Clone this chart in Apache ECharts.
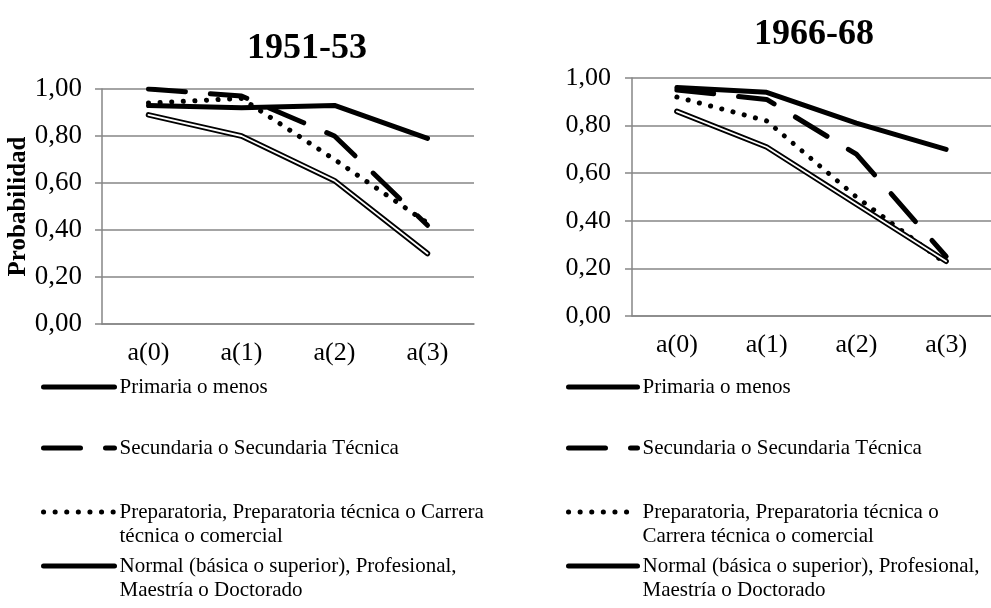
<!DOCTYPE html>
<html>
<head>
<meta charset="utf-8">
<script src="https://cdn.jsdelivr.net/npm/echarts@6/dist/echarts.min.js"></script>
<style>
  html, body { margin: 0; padding: 0; background: #fff; }
  #chart { width: 991px; height: 608px; }
</style>
</head>
<body>
<div id="chart"></div>
<script>
const categories = ["a(0)", "a(1)", "a(2)", "a(3)"];
const seriesNames = [
  "Primaria o menos",
  "Secundaria o Secundaria Técnica",
  "Preparatoria, Preparatoria técnica o Carrera técnica o comercial",
  "Normal (básica o superior), Profesional, Maestría o Doctorado"
];
const titles = ["1951-53", "1966-68"];

// 1951-53
const primaria5153 = [0.93, 0.92, 0.93, 0.79];
const secundaria5153 = [1.00, 0.97, 0.80, 0.42];
const preparatoria5153 = [0.94, 0.96, 0.70, 0.43];
const normal5153 = [0.89, 0.80, 0.61, 0.30];

// 1966-68
const primaria6668 = [0.96, 0.94, 0.81, 0.70];
const secundaria6668 = [0.95, 0.91, 0.68, 0.25];
const preparatoria6668 = [0.92, 0.82, 0.50, 0.22];
const normal6668 = [0.86, 0.71, 0.47, 0.23];

const legendLabels = [
  [
    "Primaria o menos",
    "Secundaria o Secundaria Técnica",
    "Preparatoria, Preparatoria técnica o Carrera\ntécnica o comercial",
    "Normal (básica o superior), Profesional,\nMaestría o Doctorado"
  ],
  [
    "Primaria o menos",
    "Secundaria o Secundaria Técnica",
    "Preparatoria, Preparatoria técnica o\nCarrera técnica o comercial",
    "Normal (básica o superior), Profesional,\nMaestría o Doctorado"
  ]
];

const FONT = "Liberation Serif";
const GRAY = "#868686";

const panels = [
  { data: [primaria5153, secundaria5153, preparatoria5153, normal5153],
    grid: { left: 102, top: 89, width: 372, height: 235 },
    title: { x: 302, top: 26 }, yFont: 27, yMargin: 20,
    legendLeft: 41, legendWidth: 71 },
  { data: [primaria6668, secundaria6668, preparatoria6668, normal6668],
    grid: { left: 632, top: 78, width: 365, height: 238 },
    title: { x: 809, top: 12 }, yFont: 26, yMargin: 21,
    legendLeft: 566, legendWidth: 69 }
];

// single-line rows use a 24px box, two-line rows get an empty leading line (72px box)
const legendTops = [375, 436, 476, 530];

const lineStyles = [
  { color: "#000", width: 5, type: "solid", cap: "round", join: "round" },
  { color: "#000", width: 5, type: [37, 25], cap: "round", join: "round" },
  { color: "#000", width: 5, type: [0.1, 11.5], cap: "round", join: "round" },
  { color: "#000", width: 5.5, type: "solid", cap: "round", join: "round" }
];

const fmt = v => v.toFixed(2).replace(".", ",");

const option = {
  animation: false,
  title: [],
  grid: [],
  xAxis: [],
  yAxis: [],
  legend: [],
  series: []
};

panels.forEach((p, i) => {
  option.title.push({
    text: titles[i],
    left: p.title.x,
    top: p.title.top,
    textAlign: "center",
    textStyle: { fontFamily: FONT, fontSize: 36, fontWeight: "bold", color: "#000" }
  });
  option.grid.push(p.grid);
  option.xAxis.push({
    type: "category",
    gridIndex: i,
    data: categories,
    boundaryGap: true,
    axisLine: { lineStyle: { color: GRAY, width: 1.5 } },
    axisTick: { show: false },
    axisLabel: { fontFamily: FONT, fontSize: 26, color: "#000", margin: 16 },
    splitLine: { show: false }
  });
  option.yAxis.push({
    type: "value",
    gridIndex: i,
    min: 0,
    max: 1,
    interval: 0.2,
    name: i === 0 ? "Probabilidad" : "",
    nameLocation: "middle",
    nameRotate: 90,
    nameGap: 64,
    nameTextStyle: { fontFamily: FONT, fontSize: 25, fontWeight: "bold", color: "#000" },
    axisLine: { show: true, lineStyle: { color: GRAY, width: 1.5 } },
    axisTick: { show: true, length: 7, lineStyle: { color: GRAY, width: 1.5 } },
    axisLabel: { fontFamily: FONT, fontSize: p.yFont, color: "#000", margin: p.yMargin, formatter: fmt },
    splitLine: { show: true, lineStyle: { color: GRAY, width: 1.5 } }
  });

  seriesNames.forEach((name, k) => {
    option.series.push({
      name: name,
      type: "line",
      xAxisIndex: i,
      yAxisIndex: i,
      data: p.data[k],
      symbol: "none",
      itemStyle: { color: "#000" },
      lineStyle: lineStyles[k],
      z: 10 - k
    });
  });
  // white core on top of the Normal series -> double line look
  option.series.push({
    name: "normal-core-" + i,
    type: "line",
    xAxisIndex: i,
    yAxisIndex: i,
    data: p.data[3],
    symbol: "none",
    lineStyle: { color: "#fff", width: 1.8, cap: "round", join: "round" },
    z: 11,
    silent: true
  });

  seriesNames.forEach((name, k) => {
    const label = legendLabels[i][k];
    const multi = label.indexOf("\n") >= 0;
    option.legend.push({
      data: [name],
      left: p.legendLeft,
      top: legendTops[k],
      padding: 0,
      selectedMode: false,
      itemWidth: p.legendWidth,
      itemHeight: 14,
      itemStyle: { opacity: 0 },
      lineStyle: {
        width: 5,
        type: lineStyles[k].type,
        cap: "round",
        color: "#000"
      },
      formatter: () => (multi ? "\n" + label : label),
      textStyle: {
        fontFamily: FONT,
        fontSize: 21,
        lineHeight: 24,
        color: "#000"
      }
    });
  });
});

const chart = echarts.init(document.getElementById("chart"), null, { renderer: "canvas" });
chart.setOption(option);
</script>
</body>
</html>
